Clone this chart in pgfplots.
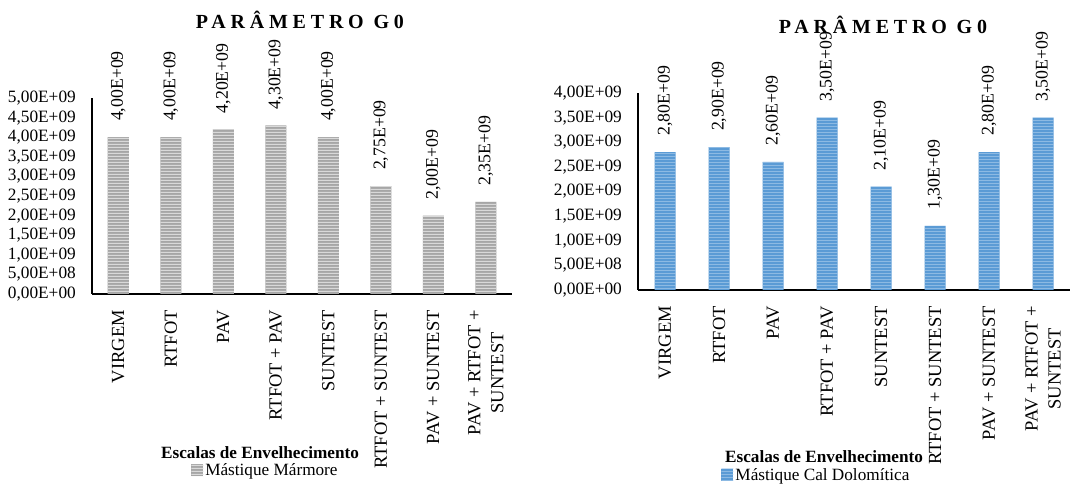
\documentclass[border=0pt]{standalone}
\usepackage{pgfplots}
\pgfplotsset{compat=1.18}
\usetikzlibrary{patterns}
\usepackage{fontspec}
\setmainfont{Liberation Serif}
\newfontfamily\titlefont{Liberation Serif}[LetterSpace=24]
\definecolor{grayA}{HTML}{A6A6A6}
\definecolor{grayB}{HTML}{D9D9D9}
\definecolor{blueA}{HTML}{5B9BD5}
\definecolor{blueB}{HTML}{A9CBEC}
\pgfdeclarepatternformonly{hstripesA}{\pgfpoint{0pt}{0pt}}{\pgfpoint{200pt}{3pt}}{\pgfpoint{200pt}{3pt}}{%
  \pgfpathrectangle{\pgfpoint{-2pt}{0pt}}{\pgfpoint{204pt}{1.5pt}}\pgfusepath{fill}}
\pgfdeclarepatternformonly{hstripesB}{\pgfpoint{0pt}{0pt}}{\pgfpoint{200pt}{3pt}}{\pgfpoint{200pt}{3pt}}{%
  \pgfpathrectangle{\pgfpoint{-2pt}{0pt}}{\pgfpoint{204pt}{0.9pt}}\pgfusepath{fill}}
\pgfplotsset{
 g0/.style={
  scale only axis, xmin=-0.5, xmax=7.5, ymin=0,
  axis x line*=bottom, axis y line*=left,
  axis line style={-, line width=1.3pt, black},
  major tick length=0pt,
  scaled y ticks=false,
  xtick={0,...,7},
  xticklabels={VIRGEM, RTFOT, PAV, RTFOT + PAV, SUNTEST, RTFOT + SUNTEST, PAV + SUNTEST, {PAV + RTFOT +\\SUNTEST}},
  xticklabel style={rotate=90, anchor=east, align=center, inner sep=0pt, font=\fontsize{18.5}{23}\selectfont},
  xticklabel shift=16pt,
  yticklabel style={inner sep=0pt, font=\fontsize{17.3}{19}\selectfont},
  yticklabel shift=16pt,
  title style={font=\titlefont\bfseries\fontsize{20}{23}\selectfont, anchor=center},
  xlabel={Escalas de Envelhecimento},
  xlabel style={font=\bfseries\fontsize{17.2}{20}\selectfont, anchor=center},
  legend style={draw=none, fill=none, font=\fontsize{17.2}{20}\selectfont, anchor=center, inner sep=0pt, legend cell align=left},
  legend image code/.code={\fill[#1, draw=none] (0pt,-6pt) rectangle (12pt,6pt);},
  nodes near coords, point meta=explicit symbolic,
  nodes near coords style={rotate=90, anchor=west, inner xsep=16pt, inner ysep=0pt, font=\fontsize{17.8}{20}\selectfont, text=black},
 }
}
\begin{document}
\begin{tikzpicture}
\useasboundingbox (0pt,0pt) rectangle (1086pt,484pt);
\begin{axis}[g0, at={(92pt,190pt)}, anchor=south west, width=420pt, height=196pt,
  ymax=5e9,
  ytick={0,5e8,1e9,1.5e9,2e9,2.5e9,3e9,3.5e9,4e9,4.5e9,5e9},
  yticklabels={{0,00E+00},{5,00E+08},{1,00E+09},{1,50E+09},{2,00E+09},{2,50E+09},{3,00E+09},{3,50E+09},{4,00E+09},{4,50E+09},{5,00E+09}},
  title={PARÂMETRO G0},
  title style={at={(axis description cs:0.495,1.367)}},
  xlabel style={at={(axis description cs:0.4,-0.811)}},
  legend style={at={(axis description cs:0.413,-0.898)}},
]
\addplot[ybar, bar width=21pt, bar shift=0pt, fill=grayA, draw=none,
  postaction={pattern=hstripesA, pattern color=grayB}]
 coordinates {(0,4.0e9) [4,00E+09] (1,4.0e9) [4,00E+09] (2,4.2e9) [4,20E+09] (3,4.3e9) [4,30E+09]
  (4,4.0e9) [4,00E+09] (5,2.75e9) [2,75E+09] (6,2.0e9) [2,00E+09] (7,2.35e9) [2,35E+09]};
\addlegendentry{Mástique Mármore}
\end{axis}
\begin{axis}[g0, at={(638pt,194pt)}, anchor=south west, width=432pt, height=197pt,
  ymax=4e9,
  ytick={0,5e8,1e9,1.5e9,2e9,2.5e9,3e9,3.5e9,4e9},
  yticklabels={{0,00E+00},{5,00E+08},{1,00E+09},{1,50E+09},{2,00E+09},{2,50E+09},{3,00E+09},{3,50E+09},{4,00E+09}},
  title={PARÂMETRO G0},
  title style={at={(axis description cs:0.567,1.315)}},
  xlabel style={at={(axis description cs:0.4306,-0.848)}},
  legend style={at={(axis description cs:0.413,-0.939)}},
]
\addplot[ybar, bar width=21pt, bar shift=0pt, fill=blueA, draw=none,
  postaction={pattern=hstripesB, pattern color=blueB}]
 coordinates {(0,2.8e9) [2,80E+09] (1,2.9e9) [2,90E+09] (2,2.6e9) [2,60E+09] (3,3.5e9) [3,50E+09]
  (4,2.1e9) [2,10E+09] (5,1.3e9) [1,30E+09] (6,2.8e9) [2,80E+09] (7,3.5e9) [3,50E+09]};
\addlegendentry{Mástique Cal Dolomítica}
\end{axis}
\end{tikzpicture}
\end{document}
